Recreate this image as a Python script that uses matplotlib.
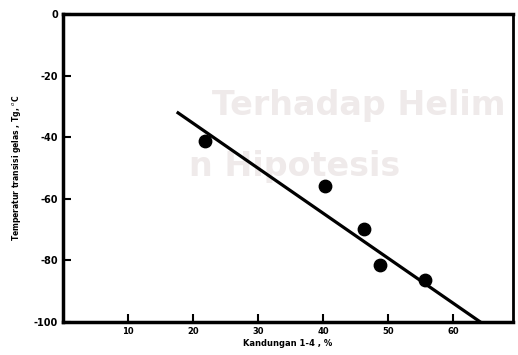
import numpy as np
import matplotlib.pyplot as plt

# data points
kandungan = [21.8, 40.3, 46.3, 48.8, 55.7]
tg = [-41.2, -55.8, -69.8, -81.5, -86.4]

# fitted line end points
line_x = [17.7, 64.2]
line_y = [-32.1, -100.0]

xticks = [10, 20, 30, 40, 50, 60]
yticks = [0, -20, -40, -60, -80, -100]

fig = plt.figure(figsize=(5.18, 3.55), dpi=100)
ax = fig.add_axes([0.1216, 0.093, 0.8684, 0.8676])

# faint bleed-through text from the page behind
fig.text(0.41, 0.675, 'Terhadap Helim', fontsize=24, color='#efeaea',
         fontweight='bold', zorder=-1)
fig.text(0.365, 0.505, 'n Hipotesis', fontsize=24, color='#efeaea',
         fontweight='bold', zorder=-1)

ax.plot(line_x, line_y, color='black', lw=2.3)
ax.scatter(kandungan, tg, s=80, color='black', zorder=3)

ax.set_xlim(0, 69.2)
ax.set_ylim(-100, 0)
ax.set_xticks(xticks)
ax.set_yticks(yticks)
ax.set_xticklabels([str(t) for t in xticks], fontsize=6, fontweight='bold')
ax.set_yticklabels([str(t) for t in yticks], fontsize=7, fontweight='bold')
ax.tick_params(direction='in', length=6, width=1.5)
ax.set_facecolor('none')
for side in ['left', 'bottom', 'top']:
    ax.spines[side].set_linewidth(2.5)
ax.spines['right'].set_linewidth(2)

ax.set_xlabel('Kandungan 1-4 , %', fontsize=6, fontweight='bold', labelpad=2)
ax.set_ylabel('Temperatur transisi gelas , Tg, $^o$C', fontsize=5.5,
              fontweight='bold', labelpad=8)

fig.savefig('out.png', dpi=100)
